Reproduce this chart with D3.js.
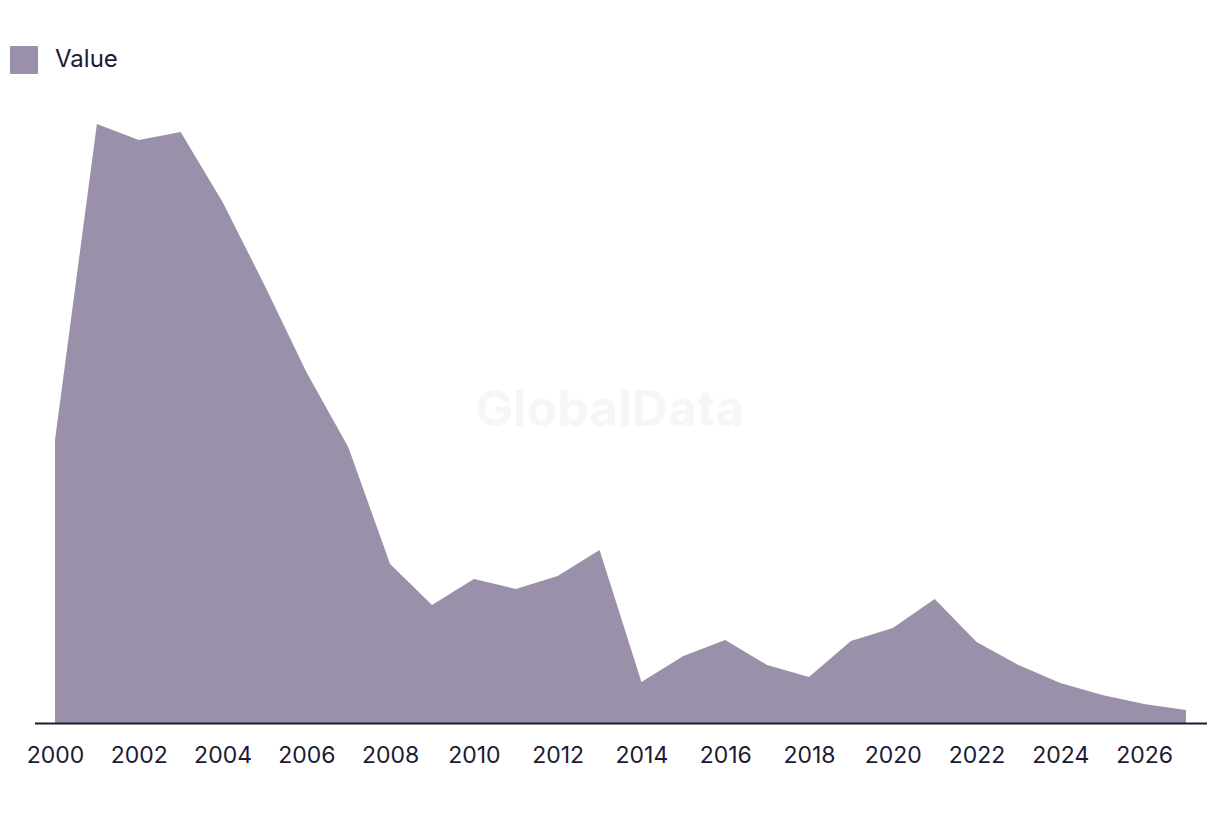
<!DOCTYPE html>
<html>
<head>
<meta charset="utf-8">
<script src="https://cdn.jsdelivr.net/npm/d3@7"></script>
<style>
  html, body { margin: 0; padding: 0; background: #ffffff; }
  svg { display: block; font-family: Inter, "Noto Sans", sans-serif; }
</style>
</head>
<body>
<svg id="chart" width="1220" height="814"></svg>
<script>
const years = [2000,2001,2002,2003,2004,2005,2006,2007,2008,2009,2010,2011,2012,2013,2014,2015,2016,2017,2018,2019,2020,2021,2022,2023,2024,2025,2026,2027];
const values = [283,599,583,591,521,438,351,276,159,118,144,134,147,173,41,67,83,58,46,82,95,124,81,58,40,28,19,13];
const tickYears = [2000,2002,2004,2006,2008,2010,2012,2014,2016,2018,2020,2022,2024,2026];
const seriesName = "Value";

const svg = d3.select("#chart");
const fill = "#9a90a9";
const textColor = "#1c1a33";

// watermark
svg.append("text")
  .attr("x", 610).attr("y", 426)
  .attr("text-anchor", "middle")
  .attr("font-size", 50).attr("font-weight", 700)
  .attr("fill", "#f6f6f6")
  .text("GlobalData");

const x = d3.scaleLinear().domain([2000, 2027]).range([55, 1186]);
const y = d3.scaleLinear().domain([0, 600]).range([723, 123]);

const data = years.map((yr, i) => ({year: yr, value: values[i]}));

const area = d3.area()
  .x(d => x(d.year))
  .y0(y(0))
  .y1(d => y(d.value));

svg.append("path")
  .datum(data)
  .attr("d", area)
  .attr("fill", fill);

// axis
const axis = d3.axisBottom(x)
  .tickValues(tickYears)
  .tickFormat(d3.format("d"))
  .tickSize(0)
  .tickPadding(24);

const gx = svg.append("g")
  .attr("transform", `translate(0,${y(0)})`)
  .call(axis);
gx.select(".domain").remove();
gx.selectAll("text")
  .attr("font-size", 23)
  .attr("fill", textColor)
  .attr("font-family", "Inter, 'Noto Sans', sans-serif");

svg.append("line")
  .attr("x1", 35).attr("x2", 1207)
  .attr("y1", y(0) + 0.5).attr("y2", y(0) + 0.5)
  .attr("stroke", textColor).attr("stroke-width", 2);

// legend
svg.append("rect")
  .attr("x", 10).attr("y", 46).attr("width", 28).attr("height", 28)
  .attr("fill", fill);
svg.append("text")
  .attr("x", 55).attr("y", 67)
  .attr("font-size", 24)
  .attr("fill", textColor)
  .text(seriesName);
</script>
</body>
</html>
